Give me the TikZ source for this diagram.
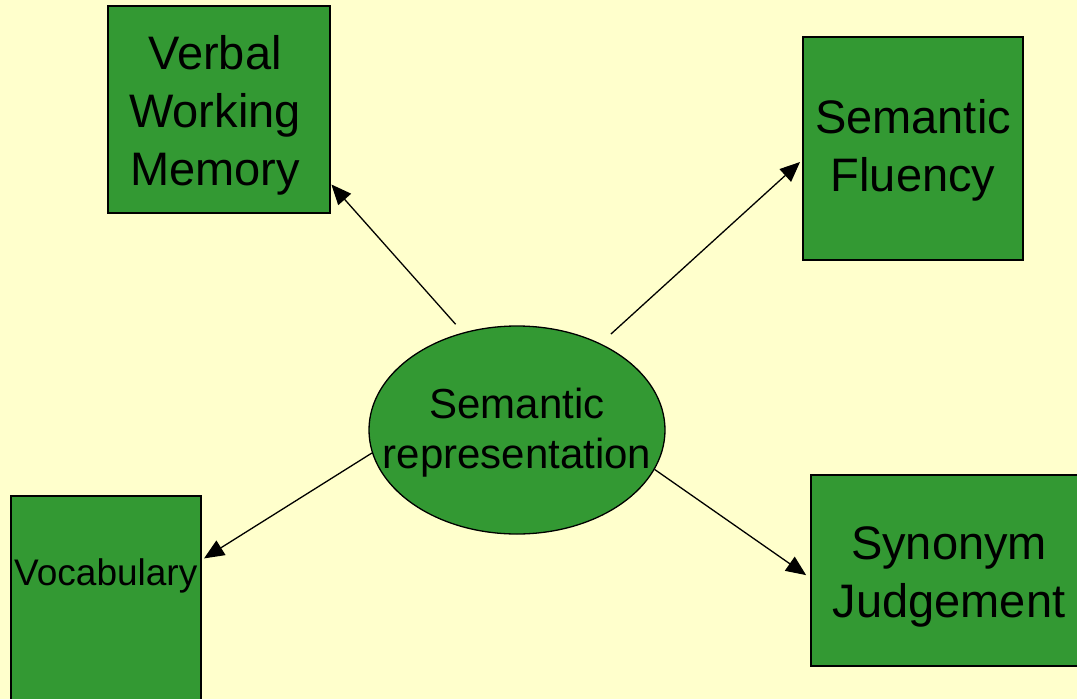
\documentclass[tikz,border=0pt]{standalone}
\usepackage{fontspec}
\setmainfont{Liberation Sans}
\usetikzlibrary{shapes.geometric,arrows.meta}
\definecolor{paper}{HTML}{FFFFCC}
\definecolor{leaf}{HTML}{339933}
\tikzset{
  box/.style={draw=black, line width=1.5pt, fill=leaf, inner sep=0pt},
  boxtext/.style={anchor=center, align=center, font=\fontsize{47}{58}\selectfont},
  hub/.style={ellipse, draw=black, line width=1.3pt, fill=leaf, inner sep=0pt},
  hubtext/.style={anchor=center, align=center, font=\fontsize{42}{50}\selectfont},
  conn/.style={line width=1.3pt, -{Triangle[length=20pt,width=17pt]}}
}
\begin{document}
\begin{tikzpicture}[x=1pt,y=-1pt]
  \useasboundingbox (0,0) rectangle (1077,699);
  \clip (0,0) rectangle (1077,699);
  \fill[paper] (0,0) rectangle (1077,699);

  % outcome measures
  \node[box, minimum width=222pt, minimum height=207pt,
        label={[name=vwmtext, boxtext, xshift=-4pt, yshift=-6pt]center:{Verbal\\Working\\Memory}}]
    (vwm) at (219,109.5) {};
  \node[box, minimum width=220pt, minimum height=223pt,
        label={[name=sftext, boxtext, yshift=-2pt]center:{Semantic\\Fluency}}]
    (sf) at (913,148.5) {};
  \node[box, minimum width=270pt, minimum height=191pt,
        label={[name=syntext, boxtext, xshift=3pt, yshift=-6pt]center:{Synonym\\Judgement}}]
    (syn) at (946,570.5) {};
  \node[box, minimum width=190pt, minimum height=240pt, anchor=north west,
        label={[name=voctext, anchor=base, yshift=-90pt,
                font=\fontsize{37}{44}\selectfont]north:Vocabulary}] (voc) at (10,495) {};

  % central construct
  \node[hub, minimum width=296pt, minimum height=208pt,
        label={[name=semtext, hubtext, yshift=-3pt]center:{Semantic\\representation}}]
    (sem) at (517,430) {};

  % links
  \draw[conn, shorten <=11pt, shorten >=1pt] (sem.119.5) -- ([yshift=30pt]vwm.south east);
  \draw[conn, shorten <=14pt, shorten >=3pt] (sem.46.7) -- ([yshift=-11.5pt]sf.west);
  \draw[conn, shorten >=3pt] (sem.189.7) -- ([yshift=-65pt]voc.north east);
  \draw[conn, shorten >=5pt] (sem.344.8) -- ([yshift=-7.5pt]syn.west);
\end{tikzpicture}
\end{document}
